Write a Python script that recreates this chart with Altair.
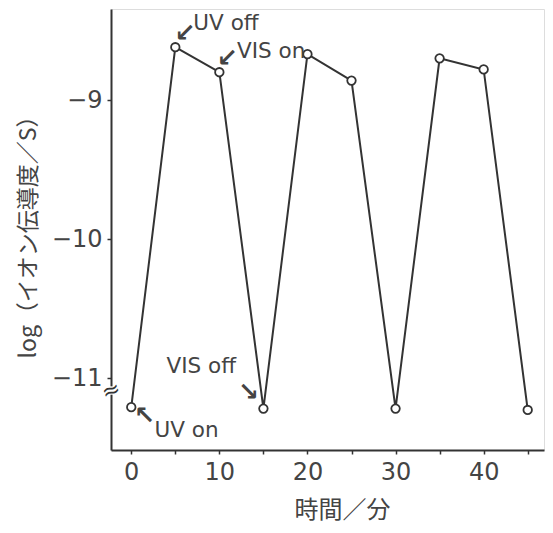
import altair as alt
import pandas as pd

# measured series
minutes = [0, 5, 10, 15, 20, 25, 30, 35, 40, 45]
log_cond = [-11.21, -8.62, -8.80, -11.22, -8.67, -8.86, -11.22, -8.70, -8.78, -11.23]

# annotations (text + anchor in data coordinates)
ann_text = ["UV off", "VIS on", "VIS off", "UV on"]
ann_x = [7.05, 12.0, 4.0, 2.64]
ann_y = [-8.45, -8.655, -10.92, -11.38]
arrow_glyph = ["↙", "↙", "↘", "↖"]
arrow_x = [6.1, 10.9, 13.3, 1.5]
arrow_y = [-8.52, -8.70, -11.10, -11.27]

x_ticks = [0, 5, 10, 15, 20, 25, 30, 35, 40, 45]
y_ticks = [-11, -10, -9]

XDOM = [-2.3, 46.85]
YDOM = [-11.518, -8.345]
INK = "#333333"
LATIN = "DejaVu Sans"
CJK = "Noto Sans CJK JP"

df = pd.DataFrame({"t": minutes, "v": log_cond})
ann = pd.DataFrame({"label": ann_text, "x": ann_x, "y": ann_y})
arr = pd.DataFrame({"g": arrow_glyph, "x": arrow_x, "y": arrow_y})
brk = pd.DataFrame({"x": [XDOM[0]], "y": [-11.06], "y2": [-11.12], "g": ["≈"], "ym": [-11.09]})

xs = alt.Scale(domain=XDOM, nice=False, zero=False)
ys = alt.Scale(domain=YDOM, nice=False, zero=False)

x_enc = alt.X(
    "t:Q", scale=xs,
    axis=alt.Axis(
        values=x_ticks, title="時間／分",
        labelExpr="datum.value % 10 == 0 ? datum.label : ''",
        grid=False, tickSize=4, tickColor=INK, tickWidth=1.5, domainColor=INK, domainWidth=2,
        labelFont=LATIN, labelFontSize=24, labelColor="#444", labelPadding=6,
        titleFont=CJK, titleFontSize=24, titleFontWeight="normal", titleColor="#444",
        titleX=231, titleY=60, titleBaseline="middle", titleAlign="center",
    ),
)
y_enc = alt.Y(
    "v:Q", scale=ys,
    axis=alt.Axis(
        values=y_ticks, title="log（イオン伝導度／S）", format="d",
        grid=False, tickSize=4, tickColor=INK, tickWidth=1.5, domainColor=INK, domainWidth=2,
        labelFont=LATIN, labelFontSize=24, labelColor="#444", labelPadding=5,
        titleFont=CJK, titleFontSize=23, titleFontWeight="normal", titleColor="#444",
        titleX=-83, titleY=222, titleAngle=270, titleBaseline="middle", titleAlign="center",
    ),
)

line = alt.Chart(df).mark_line(color=INK, strokeWidth=2).encode(x=x_enc, y=y_enc)
pts = alt.Chart(df).mark_point(
    shape="circle", size=72, filled=True, fill="white", stroke=INK, strokeWidth=1.8, opacity=1
).encode(x="t:Q", y="v:Q")

labels = alt.Chart(ann).mark_text(
    font=LATIN, fontSize=21.5, color="#444", align="left", baseline="middle"
).encode(x="x:Q", y="y:Q", text="label:N")

arrows = alt.Chart(arr).mark_text(
    font=LATIN, fontSize=25, fontWeight="bold", color="#444", align="center", baseline="middle"
).encode(x="x:Q", y="y:Q", text="g:N")

gap = alt.Chart(brk).mark_rule(color="white", strokeWidth=6).encode(x="x:Q", y="y:Q", y2="y2:Q")
brk_mark = alt.Chart(brk).mark_text(
    font=LATIN, fontSize=22, color=INK, angle=340, align="center", baseline="middle"
).encode(x="x:Q", y="ym:Q", text="g:N")

chart = (
    alt.layer(line, pts, labels, arrows, gap, brk_mark)
    .properties(
        width=433, height=441,
        autosize=alt.AutoSizeParams(type="none"),
        padding={"left": 103, "top": 1, "right": 1, "bottom": 75},
    )
    .configure_view(stroke=INK, strokeWidth=2)
    .configure(background="white")
)

chart.save("out.html", embed_options={"renderer": "svg", "actions": False})
